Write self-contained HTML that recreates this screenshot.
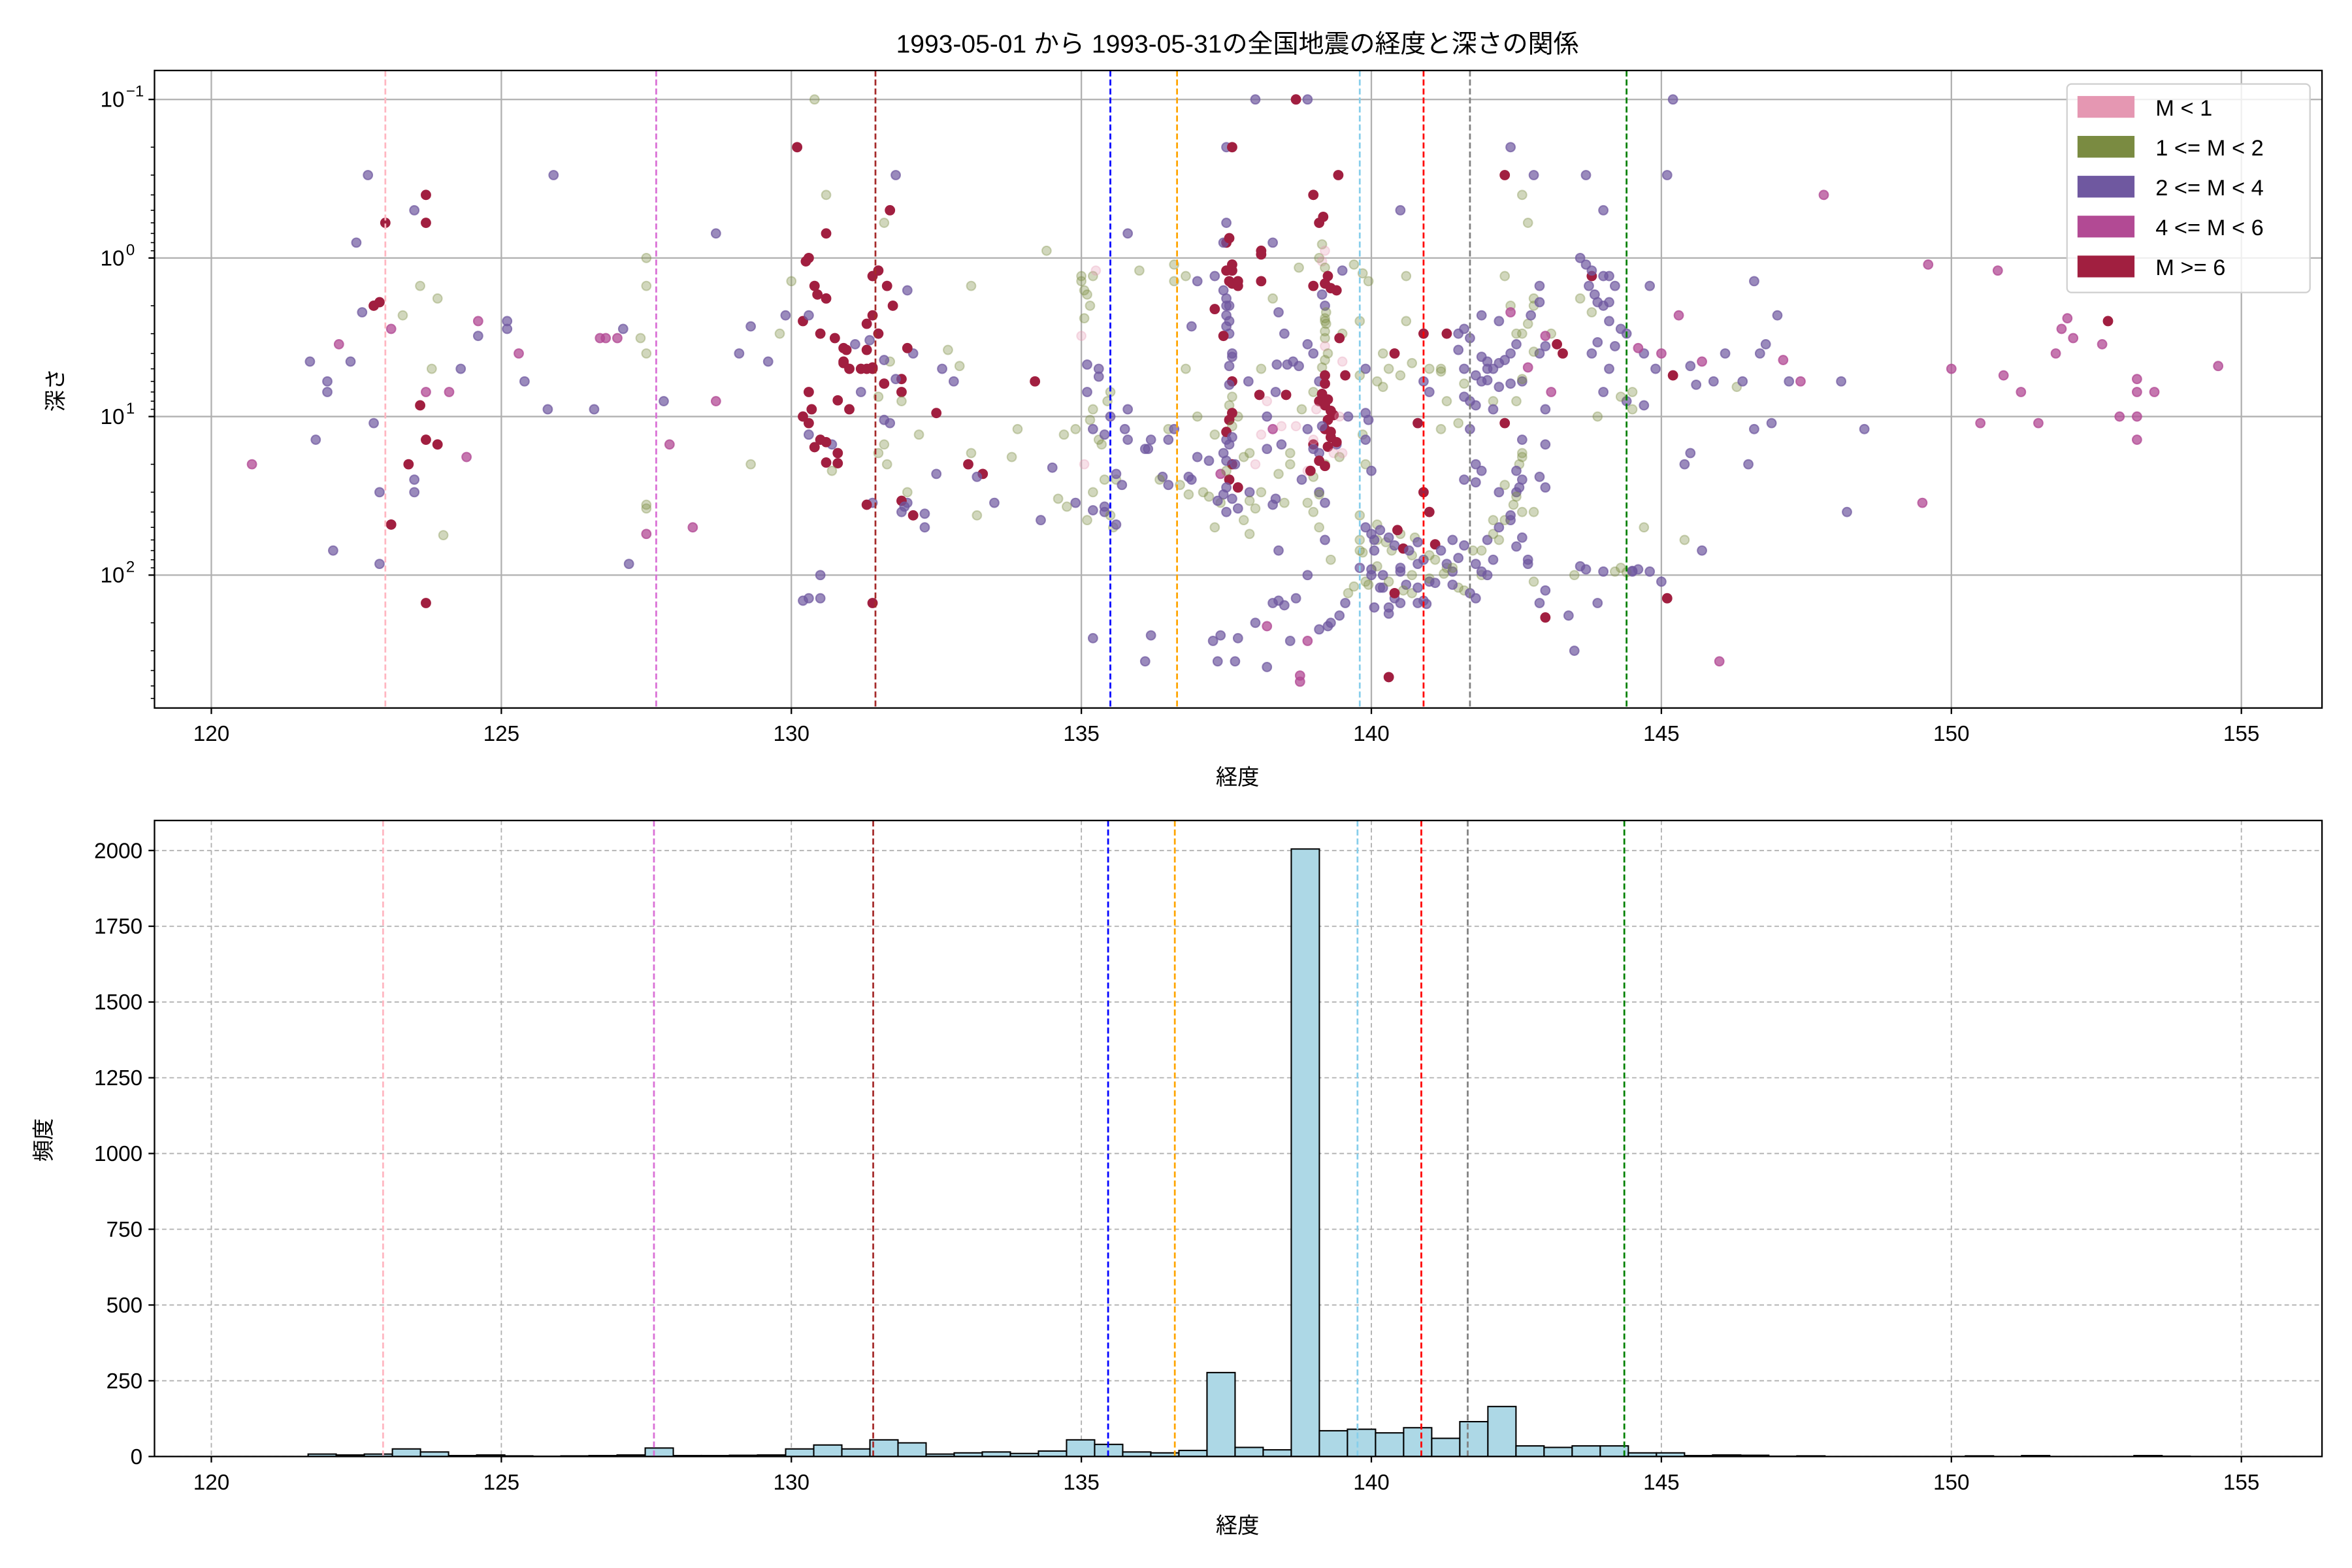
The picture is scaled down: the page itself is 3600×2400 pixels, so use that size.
<!DOCTYPE html>
<html><head><meta charset="utf-8"><style>
html,body{margin:0;padding:0;background:#fff}
svg{display:block}
text{font-family:"Liberation Sans","Noto Sans CJK JP",sans-serif;fill:#000}
</style></head><body>
<svg id="fig" width="3600" height="2400" viewBox="0 0 1568 1045.33" preserveAspectRatio="none" xmlns="http://www.w3.org/2000/svg">
<rect width="1568" height="1046" fill="#fff"/>
<g id="gtop"></g>
<g id="gbot"></g>
</svg>
<script>
// ---- data ----
const scatterLon = [120.7,121.7,121.8,122,122,122.1,122.2,122.4,122.5,122.6,122.7,122.8,122.9,122.8,122.9,122.9,123,123.1,123.1,123.3,123.5,123.6,123.5,123.4,123.6,123.7,123.7,123.8,123.7,123.7,123.5,123.7,123.9,124,123.9,124.3,124.1,124.4,124.6,124.6,125.1,125.1,125.3,125.4,125.9,125.8,
126.6,126.7,126.8,127,127.1,127.4,127.5,127.5,127.5,127.5,127.5,127.5,127.2,127.8,127.9,128.3,128.7,128.7,
129.1,129.3,129.3,129.6,129.8,129.9,130,130.1,130.2,130.3,130.2,130.3,130.4,130.6,130.6,130.6,130.5,130.3,130.2,130.3,130.5,130.5,130.7,130.8,130.9,131,131.1,131.2,131.3,131.4,131.4,131.4,131.5,131.6,131.7,131.8,131.7,131.9,131.9,132,132,131.9,132,132.1,132.1,132.2,132.3,132.5,132.7,132.8,133.1,133.3,133.2,133.5,133.8,133.9,134.2,134.3,134.6,134.5,134.4,134.7,134.9,
135,135.2,135.3,135.5,135.5,135.3,135.6,135.4,135.2,135.1,135.2,135.8,135.8,136,136.1,136.2,136.5,136.5,136.6,136.8,136.9,137,137.2,137.1,136.9,137.3,
137.5,137.6,137.5,137.5,137.6,137.7,137.5,137.6,137.6,137.7,137.6,137.5,137.8,137.7,137.9,137.5,137.8,137.7,137.4,137.3,
138.0,138.1,138.3,138.4,138.5,138.7,138.9,138.2,138.3,138.6,138.8,138.5,138.0,138.3,138.6,138.9,138.9,139,139.1,139.1,139.0,139.2,139.0,139.1,139.1,139.2,139.0,139.2,139.1,139.0,139.2,139.4,139.6,139.5,139.7,139.9,139.9,139.8,139.8,139.9,
140.0,140.1,140.2,140.3,140.3,140.4,140.5,140.6,140.6,140.7,140.8,140.9,140.9,141.0,141.0,141.1,141.2,141.3,141.4,141.5,141.6,141.7,141.8,141.9,141.9,142.0,142.1,142.2,142.3,142.4,142.4,142.5,142.6,142.7,142.8,142.9,142.6,142.5,142.6,142.7,142.8,142.3,142.8,142.9,143.0,143.1,143.2,143.3,143.0,143.4,143.5,143.5,143.6,143.7,143.8,143.8,143.9,143.9,144.0,144.1,144.2,144.3,144.5,144.4,144.5,144.7,144.9,144.8,145.0,145.1,145.2,145.1,145.3,145.4,145.4,145.5,145.7,145.9,146.0,146.1,146.3,146.4,146.5,146.6,146.6,146.7,146.8,146.9,147.0,147.2,147.1,147.4,147.8,148.1,148.2,148.5,149.5,149.6,150.0,150.5,150.8,150.9,151.2,151.5,151.8,151.9,152.0,152.1,152.6,152.7,152.9,153.2,153.2,153.2,153.2,153.5,154.6,
140.5,141.5,142.0,142.2,141.8,140.8,139.5,139.3,140.1,140.2,139.8,140.5,141.2,141.6,142.1,142.4,141.9,140.7,141.4,142.6,139.1,139.2,139.0,138.8,138.4,137.9,138.1];
const scatterDepth = [20,4.5,14,7,6,70,3.5,4.5,0.8,2.2,0.3,2,1.9,11,85,30,0.6,2.8,48,2.3,0.5,1.5,25,20,8.5,0.4,0.6,5,7,14,30,150,15,56,1.8,5,7,18,2.5,3.1,2.5,2.8,4,6,0.3,9,
9,3.2,3.2,3.2,2.8,3.2,1,1.5,4,38,36,55,85,8,15,50,8,0.7,
4,2.7,20,4.5,3,2.3,1.4,0.2,2.5,2.3,10,7,0.1,0.4,1.8,0.7,3,13,145,140,140,100,15,17,4.5,5,3.5,5,2.6,5,35,150,1.2,0.6,0.5,0.3,4.5,7,8,1.6,30,40,35,42,4,13,50,23,3.8,6,1.5,23,42,35,18,12,6,45,33,21,0.9,13,12,
1.4,1.3,5,7,10,14,25,40,39,45,250,9,0.7,1.2,16,240,12,14,1.1,5,2.7,10,19,30,25,1.3,
0.2,0.2,0.6,0.8,1.2,1.5,2,4,6,10,20,14,18,28,30,40,45,250,240,50,
0.1,0.9,1.8,2.2,3,0.1,0.1,10,12,20,25,35,200,150,260,260,100,0.4,0.6,1.0,1.5,2.5,4,6,8,12,15,20,30,40,60,15,10,1.2,1.1,20,5,70,90,110,
100,60,120,160,440,4,55,1.3,2.5,75,85,30,3,40,110,80,5,90,60,3,5,8,20,2.3,100,5,80,2.5,1.3,0.2,2,3,0.4,0.6,1.8,4,6,30,40,80,110,0.3,0.3,1.5,15,3,3.5,4,185,180,300,100,1.8,0.3,1.3,4,10,150,0.5,1.3,1.5,90,95,8,7,4,5,1.5,4,0.3,0.1,140,2.3,60,20,17,70,6,350,4,6.5,6,20,12,1.4,4,3.5,11,2.3,6,4.4,6,0.4,6,40,12,35,1.1,5,11,1.2,5.5,7,11,4,2.8,2.4,3.2,3.5,2.5,10,10,14,5.8,7,7,4.8,
90,120,100,60,140,150,3,80,6,4,2.5,0.5,12,25,8,45,70,130,95,18,50,35,7,9,70,55,5];
const scatterClass = [3,2,2,2,2,2,3,2,2,2,2,4,4,2,2,2,4,3,4,1,2,1,2,4,4,4,4,1,3,4,2,4,4,1,1,2,3,3,3,2,2,2,3,2,2,2,
2,3,3,3,2,1,1,1,1,1,1,3,2,2,3,3,3,2,
2,2,1,2,1,2,1,4,4,2,4,4,1,1,4,4,4,2,2,2,2,2,2,4,4,4,2,4,4,4,2,4,4,1,4,2,1,4,1,2,1,2,2,4,2,1,2,2,1,2,1,4,1,2,1,1,4,2,1,2,1,1,1,
1,1,2,1,2,1,1,2,2,1,2,2,2,1,2,2,1,2,1,1,2,1,2,1,2,2,
2,4,2,4,4,4,2,2,4,1,4,2,1,4,2,2,1,2,2,1,
2,4,1,2,2,4,2,2,3,1,2,1,2,2,2,3,2,4,4,1,4,1,2,2,4,4,4,1,2,1,2,2,2,2,1,1,2,1,2,1,
2,1,2,2,4,4,1,1,1,1,2,4,4,4,2,1,1,1,2,2,2,2,2,2,1,2,2,2,1,2,1,1,1,1,1,2,2,2,1,2,1,4,2,2,2,1,4,4,4,2,2,1,1,2,4,2,1,2,2,2,2,1,2,2,1,2,2,2,3,2,2,4,3,1,2,2,2,2,3,2,1,2,2,2,2,2,2,2,2,2,3,3,3,2,2,2,3,3,3,3,3,3,3,3,3,3,3,3,3,4,3,3,3,3,3,3,3,
2,1,2,1,2,2,1,1,1,1,1,2,1,2,1,2,1,1,2,1,1,2,1,1,2,1,1];
// extra quakes per region: [longitude, depth, magnitude class]
const quakesChubu = [[137.45,0.8,2],[137.55,0.75,4],[137.6,1.1,4],[137.5,1.2,4],[137.55,1.4,4],[137.6,1.45,4],[137.7,1.4,4],[137.45,1.6,2],[137.5,1.8,2],[137.55,2.0,2],[137.5,2.3,2],[137.55,2.5,2],[137.5,2.7,2],[137.55,3.0,2],[137.45,3.1,4],[137.6,4.2,2],[137.55,4.8,2],[137.55,6.3,2],[137.6,7.5,1],[137.55,8.5,1],[137.6,9.5,4],[137.55,10.5,4],[137.6,11.5,1],[137.5,12.5,4],[137.6,13.5,2],[137.55,15,2],[137.45,17,2],[137.5,19,2],[137.4,23,3],[137.55,25,4],[137.5,28,2],[137.45,31,2],[137.6,33,2],[137.4,35,1],[137.5,22,1],
[137.0,1.4,2],[136.6,1.4,1],[136.8,1.3,1],[138.1,0.95,4],[138.1,1.4,4],[137.3,2.1,4],[138.3,0.8,2],[138.75,1.15,1],[137.88,6,2],[138.37,4.7,2],[138.07,7.3,4],[138.53,7.3,4],[138.2,8,0],[138.45,11.5,0],[138.7,11.5,0],[138.1,13,0],[138.0,20,0],[138.9,22,0],[138.4,23,1],[138.6,17,1],[138.2,16,2],[138.45,15,2],[137.9,17,1],[137.65,20,2],[137.3,13,1],[137.0,18,2],[136.85,24,2],[136.7,27,1],[136.5,27,2],[136.4,24,2],[136.6,12,2],[136.2,14,2],[136.15,16,2],[136.35,25,1],[136.85,31,1],[137.2,32,1],[137.35,34,2],[137.7,38,2],[137.9,34,1],[138.1,30,1],[138.3,36,2],[138.35,33,2],[138.9,35,1],[139.1,31,1],[138.0,38,1],
[138.4,145,2],[138.5,155,2],[138.7,140,2],[138.2,210,3],[137.27,260,2],[137.35,350,2],[137.65,350,2],[138.2,380,2],[138.77,430,3],[138.77,470,3],[136.1,350,2]];
const quakesKanto = [[139.43,0.3,4],[139.17,0.55,4],[139.15,0.82,1],[139.2,0.9,0],[139.15,1.05,0],[139.2,1.15,1],[139.25,1.3,4],[139.2,1.45,4],[139.3,1.55,4],[139.4,1.6,4],[139.15,1.7,2],[139.2,2.0,2],[139.22,2.2,1],[139.2,2.4,1],[139.22,2.6,1],[139.2,2.9,1],[139.2,3.2,1],[139.2,3.6,0],[139.25,4.0,1],[139.2,4.4,1],[139.15,4.9,1],[139.2,5.5,4],[139.2,6.2,4],[139.15,7.2,4],[139.25,7.8,4],[139.2,8.5,4],[139.3,9.2,4],[139.35,9.8,4],[139.25,10.5,4],[139.15,11.5,2],[139.3,12.5,4],[139.3,13.5,4],[139.4,14.5,4],[139.25,15.5,4],[139.1,17,2],[139.1,19,4],[139.2,20.5,4],[139.35,17,0],[139.45,18,1],[139.5,17,0],[139.0,24,1],[138.95,22,4],[139.0,16,2],[139.45,3.2,4],[139.5,4.5,0],[139.55,5.5,4],[139.45,10,0],[139.05,9,0],[139.0,14,0],
[138.9,3.5,2],[138.65,4.5,2],[138.55,4.7,2],[138.75,4.8,2],[138.35,7,2],[138.9,12,2],
[139.85,1.25,1],[139.95,1.4,1],[139.9,9.5,2],[139.95,10.5,2],[139.8,5.5,1],[139.85,13,1],[139.9,14,2],[140.0,22,2],[139.8,60,1],[139.85,72,1],[140.05,60,2],[140.05,70,2]];
const quakesDeep = [[139.8,42,1],[139.9,50,2],[140.0,55,2],[140.1,48,1],[140.15,52,2],[140.25,62,1],[140.3,58,2],[140.35,70,1],[140.4,65,2],[140.45,52,4],[140.55,68,4],[140.65,70,2],[140.75,58,1],[140.8,62,2],[140.9,80,2],[141.0,75,1],[141.1,64,4],[141.2,70,2],[141.3,85,2],[141.4,90,1],[141.5,78,2],[141.6,65,2],[141.75,70,1],[141.8,85,2],[141.9,95,2],[142.0,60,2],[142.1,55,1],[142.2,50,2],[142.3,45,1],[142.4,42,2],[140.0,92,2],[140.1,88,1],[140.2,100,2],[140.3,110,1],[140.5,95,2],[140.6,115,2],[140.7,100,1],[140.8,120,2],[141.0,105,1],[141.1,112,2],[141.25,98,1],[141.4,115,2],[140.15,120,2],[139.95,115,1],[140.4,140,2],[140.55,125,1],[140.9,145,2],[140.95,152,2],[140.4,130,4],[141.6,125,1],[139.7,118,1],[139.6,130,1],[139.55,150,2],[139.45,180,2],[139.3,200,2],[139.25,210,2],[139.1,220,2],[140.05,160,2],[140.3,175,2],[140.5,150,2],[142.5,66,2],[142.7,85,2],[142.6,58,2],[141.7,130,2],[142.1,45,1]];
const quakesTohoku = [[141.3,3.0,4],[141.5,3.8,2],[141.6,2.8,2],[141.7,3.2,2],[141.9,4.2,2],[142.0,4.5,2],[142.1,5,2],[142.2,4.6,2],[142.3,4.4,2],[142.4,4.0,2],[142.5,3.5,2],[142.6,3.0,1],[142.7,2.6,1],[142.75,2.3,2],[142.8,2.0,1],[142.9,1.9,2],[142.4,2.2,3],[142.8,3.9,1],[143.0,3.6,2],[143.0,3.1,3],[141.8,5.5,2],[141.9,6.0,2],[142.0,5.9,2],[142.2,6.5,2],[142.4,6.2,2],[142.6,5.8,1],[142.7,4.9,3],[141.6,6.2,1],[141.2,5.2,1],[141.0,5.0,1],[140.9,6.0,2],[140.7,4.6,1],[140.5,5.5,1],[140.3,5.0,1],[140.2,6.5,1],[141.0,7.0,2],[141.3,8.0,1],[141.6,7.5,2],[141.8,8.5,2],[142.1,9.0,2],[142.5,8.0,1],[143.0,9.0,2],[143.1,7.0,3],[140.8,11,4],[142.3,11,4],[141.5,11,1],[141.7,12,2],[142.6,14,2],[142.6,17,1],[142.55,20,1],[142.5,22,2],[142.6,25,2],[142.55,28,2],[142.5,32,1],[142.45,36,1],[142.3,27,1],[142.2,30,2],[141.9,22,2],[141.8,26,2],[142.9,24,2],[143.0,28,2],[142.8,40,1],
[143.6,1.0,2],[143.7,1.1,2],[143.8,1.2,2],[143.75,1.5,2],[143.85,1.7,2],[143.9,1.9,2],[144.0,1.3,2],[144.1,1.9,2],[144.0,2.0,2],[143.8,2.2,1],[144.1,2.5,2],[144.3,2.8,2],[144.4,3.0,2],[144.2,3.6,2],[143.9,3.4,2],[144.6,3.7,3],[144.1,5,2],[144.0,7,2],[144.3,7.5,1],[144.5,9,1],[144.7,8.5,2],[145.5,4.8,2],[145.6,6.3,2],[145.2,5.5,4],[145.7,4.5,3],[143.6,88,2],[143.7,92,2],[144.0,95,2],[144.2,95,1],[144.4,96,1],[144.5,94,2],[144.6,92,2],[144.8,95,2],[145.0,110,2],[144.7,50,1],[143.0,125,2],[142.9,150,2]];
const quakesKyushu = [[130.3,1.0,4],[130.25,1.05,4],[130.4,1.5,4],[130.45,1.7,4],[130.75,3.2,4],[130.9,3.7,4],[130.95,3.8,4],[130.9,4.6,4],[131.3,5.0,4],[131.4,4.9,4],[131.6,4.4,2],[131.3,3.8,4],[131.35,3.3,2],[131.5,3.0,4],[131.4,2.3,4],[131.65,1.5,4],[131.75,2.0,4],[131.4,1.3,4],[132.0,3.7,4],[131.9,5.8,4],[131.6,6.2,4],[130.8,7.9,4],[131.2,7.0,2],[130.35,9.0,4],[130.3,11,4],[131.0,9.0,4],[130.5,14,4],[130.6,14.5,4],[130.4,15.6,4],[130.6,19.5,4],[130.8,19.7,4],[131.6,10.5,2],[131.7,11,2],[131.8,5.8,2],[131.5,7.5,1],[131.6,15,1],[131.5,17,1],[131.65,20,1],[131.3,36,4],[131.9,34,4],[130.7,22,1],[131.95,37,2],[132.3,41,2],[132.5,9.5,4],[132.6,5,2],[133.05,20,4],[133.2,24,2],[132.9,4.8,1],[133.1,17,1]];
const quakesKinki = [[135.0,1.3,1],[135.05,1.6,1],[135.1,1.7,1],[135.15,2.0,1],[135.05,2.4,1],[135.0,3.1,0],[135.1,4.7,2],[135.3,5.6,2],[135.1,7,2],[135.2,9,1],[135.15,10.5,1],[135.2,12,2],[135.4,13,2],[135.35,15,1],[135.05,20,0],[135.4,25,1],[135.6,23,2],[135.7,27,2],[135.75,12,2],[135.8,14,2],[135.5,42,1],[135.4,37,2],[135.55,50,1],[135.6,48,2],[135.2,30,1],[134.9,35,2],[134.75,37,1],[135.45,8,1],[135.25,1.2,0]];
const classLabels = ["M < 1","1 <= M < 2","2 <= M < 4","4 <= M < 6","M >= 6"];
const classColors = ["#e597b2","#7a8b41","#6f58a0","#b24a94","#a11f40"];
const classOpacity = [0.3,0.35,0.7,0.75,1];
const histStart = 120.7, histWidth = 0.4843;
const histCounts = [0,0,8,5,8,25,15,3,5,2,1,2,3,5,28,3,3,4,5,25,38,25,55,45,8,12,15,10,18,55,40,15,12,20,277,30,22,2005,85,90,78,95,60,115,165,35,30,35,35,12,12,3,5,4,1,2,0,0,0,0,0,2,0,3,0,0,0,3,1,0];
const refLons = [123.0,127.67,131.45,135.5,136.65,139.8,140.9,141.7,144.4];
const refColors = ["#ffb6c1","#da70d6","#a52a2a","#0000ff","#ffa500","#87ceeb","#ff0000","#808080","#008000"];
const xTicks = [120,125,130,135,140,145,150,155];
const yTopExp = [-1,0,1,2];
const yBotTicks = [0,250,500,750,1000,1250,1500,1750,2000];

// ---- layout ----
const NS="http://www.w3.org/2000/svg";
const L=103,R=1548, T1=47,B1=472, T2=547,B2=971;
const X0=119.02,X1=156.39;
const xs = v => L + (v-X0)/(X1-X0)*(R-L);
const yTop = d => 172 + Math.log10(d)*105.7;
const yBot = c => B2 - c/2000*(B2-567);
function el(tag, attrs, parent, txt){const e=document.createElementNS(NS,tag);for(const k in attrs)e.setAttribute(k,attrs[k]);if(txt!==undefined)e.textContent=txt;parent.appendChild(e);return e;}
const gTop=document.getElementById('gtop'), gBot=document.getElementById('gbot');

let t=el('text',{x:825,y:35,'text-anchor':'middle','font-size':17},gTop,'1993-05-01 から 1993-05-31の全国地震の経度と深さの関係');



const cp1=el('clipPath',{id:'c1'},gTop); el('rect',{x:L,y:T1,width:R-L,height:B1-T1},cp1);
const cp2=el('clipPath',{id:'c2'},gTop); el('rect',{x:L,y:T2,width:R-L,height:B2-T2},cp2);
xTicks.forEach(v=>{
  let g=el('line',{x1:xs(v),x2:xs(v),y1:T1,y2:B1,stroke:'#b0b0b0','stroke-width':1},gTop);
  
  
  let g2=el('line',{x1:xs(v),x2:xs(v),y1:T2,y2:B2,stroke:'#b0b0b0','stroke-width':0.8,'stroke-dasharray':'3,2'},gBot);
  
  
});
yTopExp.forEach(e=>{
  let y=yTop(Math.pow(10,e));
  let g=el('line',{x1:L,x2:R,y1:y,y2:y,stroke:'#b0b0b0','stroke-width':1},gTop);
  
  
});
yBotTicks.forEach(v=>{
  let g=el('line',{x1:L,x2:R,y1:yBot(v),y2:yBot(v),stroke:'#b0b0b0','stroke-width':0.8,'stroke-dasharray':'3,2'},gBot);
  
  
});

// scatter points
const pts=el('g',{'clip-path':'url(#c1)'},gTop);


function drawQuake(lon,depth,c){
  let p=el('circle',{cx:xs(lon),cy:yTop(depth),r:3.0,fill:classColors[c],'fill-opacity':classOpacity[c],stroke:classColors[c],'stroke-opacity':classOpacity[c],'stroke-width':0.9},pts);
  
  
}
const nPts=Math.min(scatterLon.length,scatterDepth.length,scatterClass.length);
for(let i=0;i<nPts;i++) drawQuake(scatterLon[i],scatterDepth[i],scatterClass[i]);
[quakesChubu,quakesKanto,quakesDeep,quakesTohoku,quakesKyushu,quakesKinki].forEach(arr=>arr.forEach(q=>drawQuake(q[0],q[1],q[2])));

// histogram bars
const bars=el('g',{'clip-path':'url(#c2)'},gBot);


histCounts.forEach((c,k)=>{
  const a=histStart+k*histWidth, b=a+histWidth;
  let r=el('rect',{x:xs(a),y:yBot(c),width:xs(b)-xs(a),height:B2-yBot(c),fill:'#add8e6',stroke:'#000','stroke-width':0.9},bars);
  
  
});

// ref lines
refLons.forEach((v,i)=>{
  let a=el('line',{x1:xs(v),x2:xs(v),y1:T1,y2:B1,stroke:refColors[i],'stroke-width':1.2,'stroke-dasharray':'4,2'},gTop);
  
  
  let b=el('line',{x1:xs(v)-1.5,x2:xs(v)-1.5,y1:T2,y2:B2,stroke:refColors[i],'stroke-width':1.2,'stroke-dasharray':'4,2'},gBot);
  
  
});

[[gTop,T1,B1],[gBot,T2,B2]].forEach(([g,a,b])=>{
  let f=el('rect',{x:L,y:a,width:R-L,height:b-a,fill:'none',stroke:'#000','stroke-width':1},g);
  
  
});

[[gTop,B1],[gBot,B2]].forEach(([g,b])=>{
  xTicks.forEach(v=>{
    el('line',{x1:xs(v),x2:xs(v),y1:b,y2:b+4,stroke:'#000','stroke-width':1},g);
    let tl=el('text',{x:xs(v),y:b+22,'text-anchor':'middle','font-size':14.5},g,String(v));
    
    
  });
  let xl=el('text',{x:825,y:b+51,'text-anchor':'middle','font-size':14.5},g,'経度');
  
  
});

yTopExp.forEach(e=>{
  const y=yTop(Math.pow(10,e));
  el('line',{x1:L-4,x2:L,y1:y,y2:y,stroke:'#000','stroke-width':1},gTop);
  const tx=el('text',{x:L-20,y:y+5,'text-anchor':'end','font-size':14.5},gTop,'10');
  
  
  el('text',{x:L-19,y:y-2,'text-anchor':'start','font-size':10.5},gTop,e===-1?'−1':String(e));
  for(let m=2;m<10;m++){
    const ym=yTop(m*Math.pow(10,e));
    if(ym>T1&&ym<B1) el('line',{x1:L-2.5,x2:L,y1:ym,y2:ym,stroke:'#000','stroke-width':0.7},gTop);
  }
});
let yl=el('text',{x:0,y:0,'text-anchor':'middle','font-size':14.5,transform:'translate(42,260) rotate(-90)'},gTop,'深さ');



yBotTicks.forEach(v=>{
  el('line',{x1:L-4,x2:L,y1:yBot(v),y2:yBot(v),stroke:'#000','stroke-width':1},gBot);
  let tl=el('text',{x:L-8,y:yBot(v)+5,'text-anchor':'end','font-size':14.5},gBot,String(v));
  
  
});
let yl2=el('text',{x:0,y:0,'text-anchor':'middle','font-size':14.5,transform:'translate(34,760) rotate(-90)'},gBot,'頻度');



const lg=el('g',{},gTop);


el('rect',{x:1378,y:56,width:162,height:139,rx:3,fill:'#fff','fill-opacity':0.8,stroke:'#d0d0d0','stroke-width':1},lg);
classLabels.forEach((lab,i)=>{
  const y=64+i*26.6;
  const g=el('g',{},lg);
  
  
  el('rect',{x:1385,y:y,width:38,height:14.5,fill:classColors[i]},g);
  el('text',{x:1437,y:y+13,'font-size':15},g,lab);
});
</script>
</body></html>
